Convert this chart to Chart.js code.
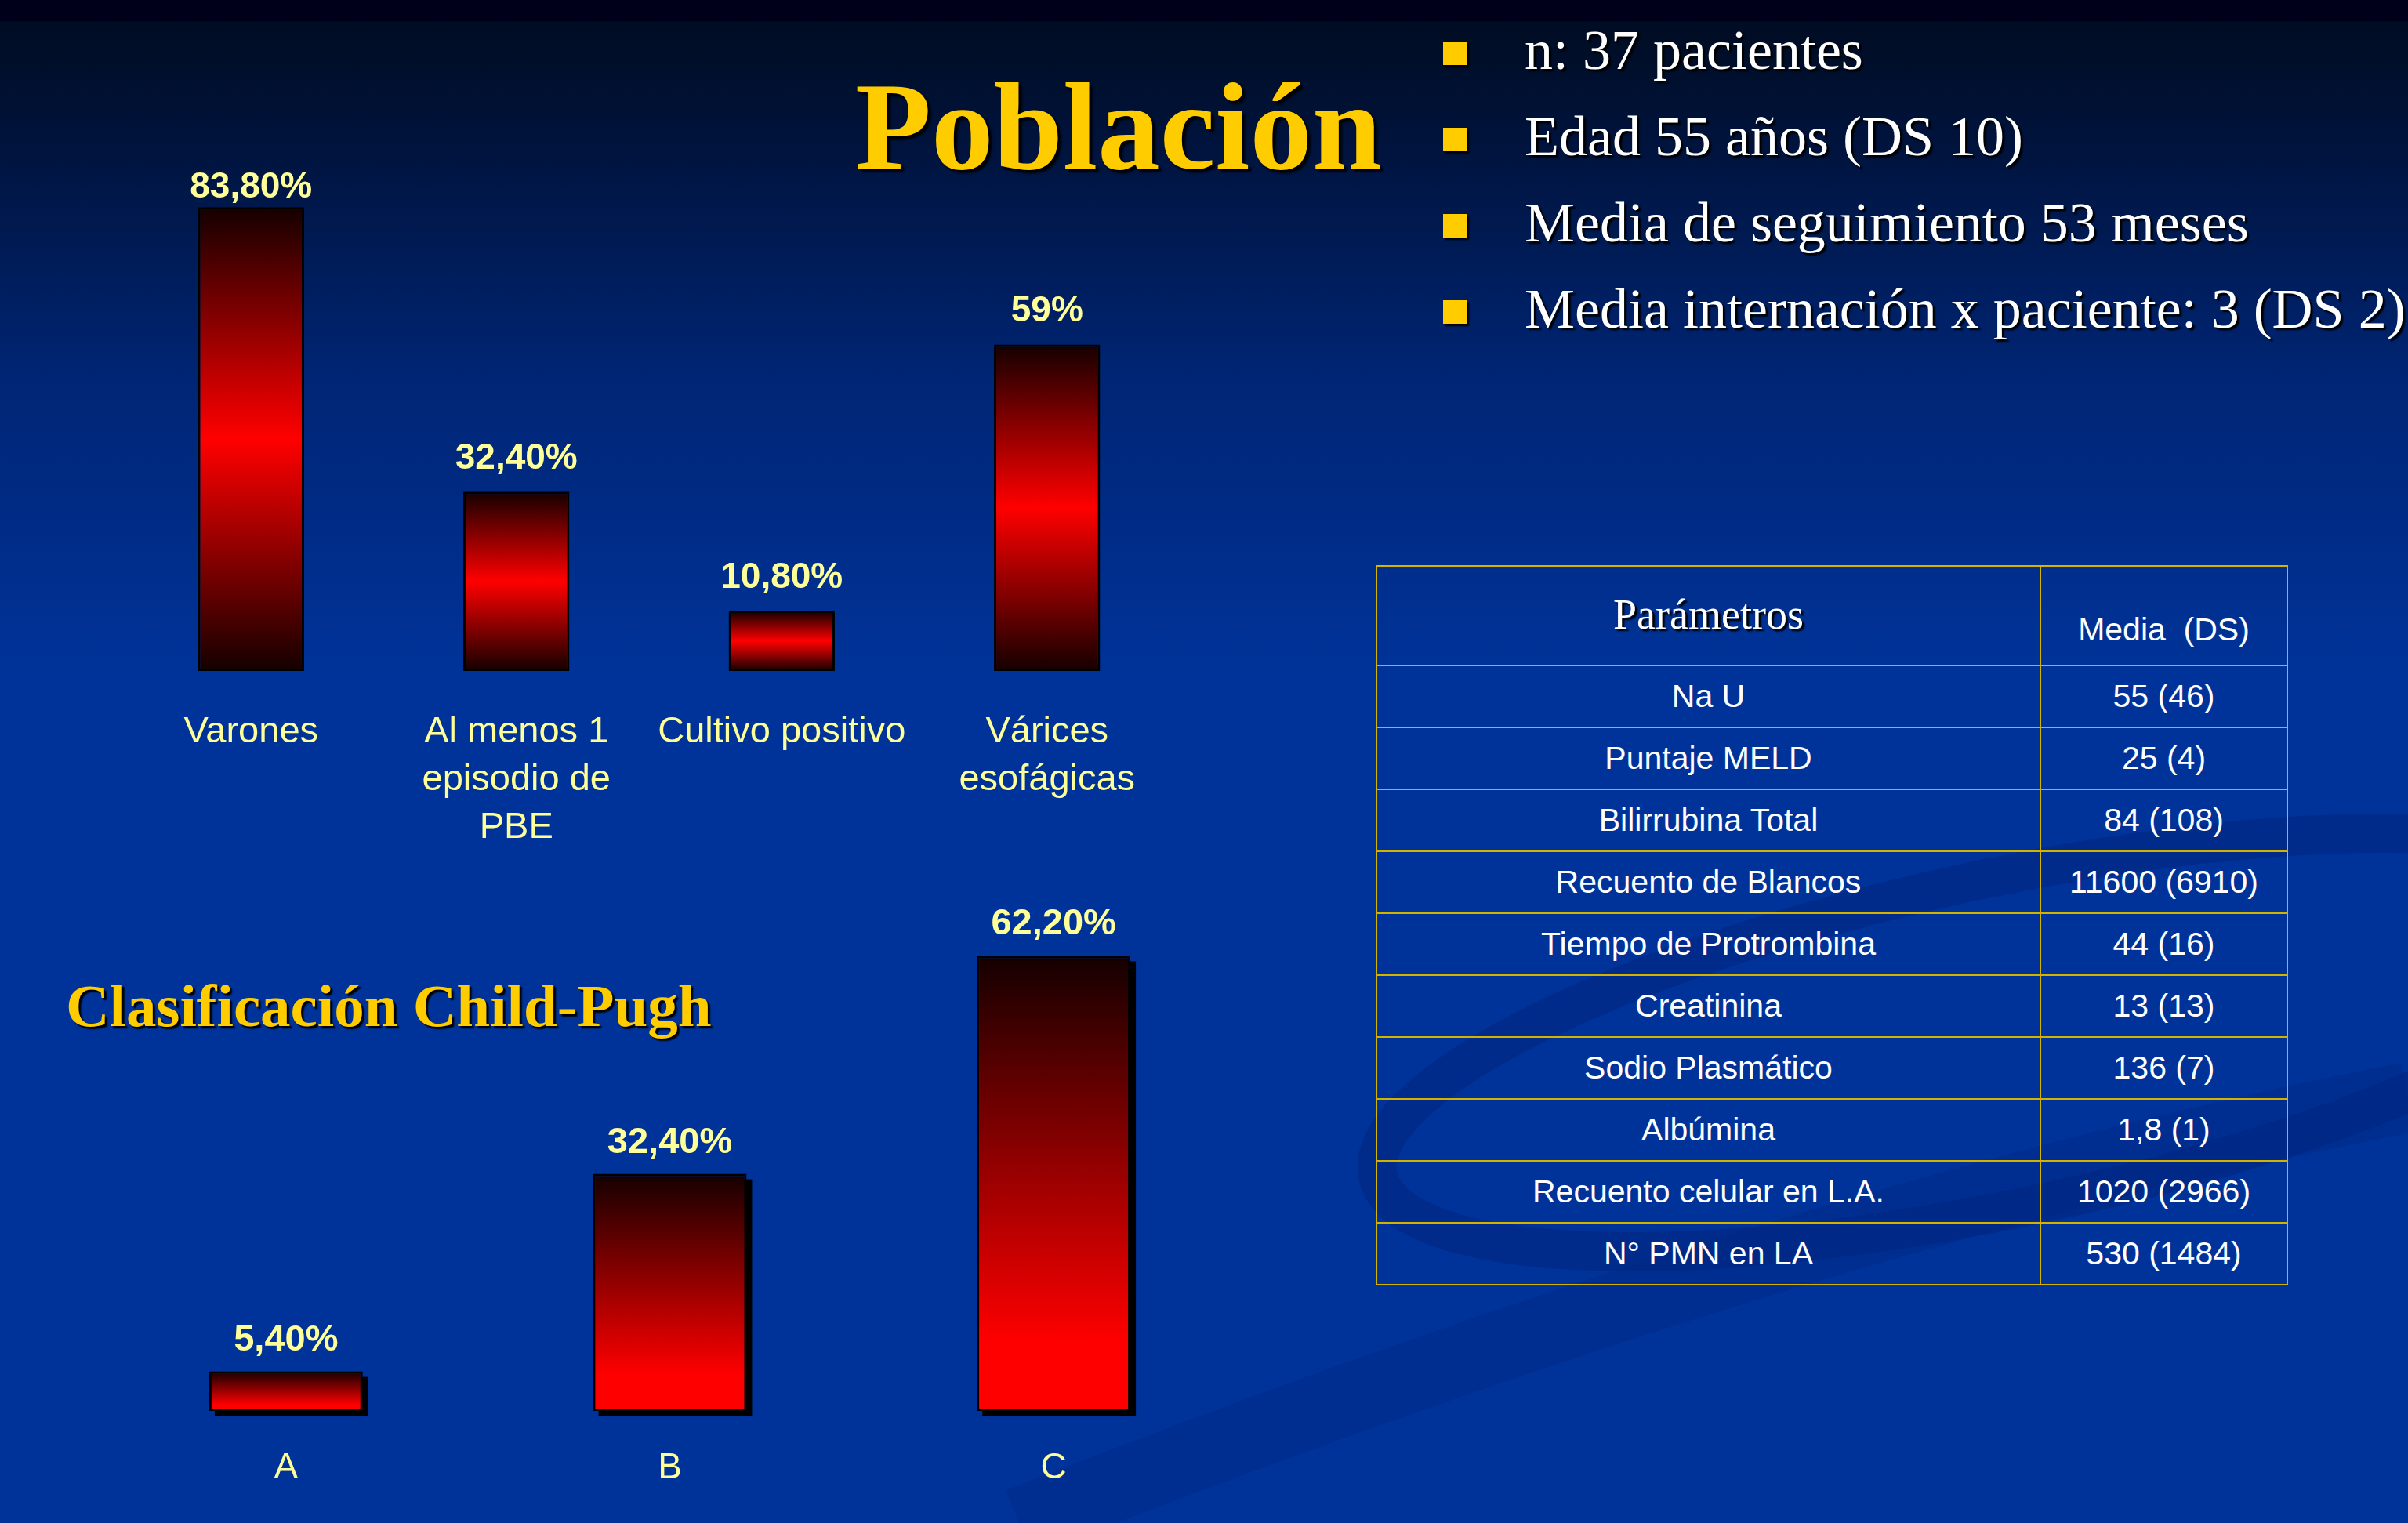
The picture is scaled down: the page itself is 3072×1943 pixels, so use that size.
<!DOCTYPE html>
<html>
<head>
<meta charset="utf-8">
<script src="https://cdn.jsdelivr.net/npm/chart.js@4.4.1/dist/chart.umd.min.js"></script>
<style>
  html, body { margin: 0; padding: 0; }
  body {
    width: 3072px; height: 1943px; overflow: hidden; position: relative;
    background: linear-gradient(to bottom, #00001a 0px, #00001a 27px, #000c22 28px, #00143f 200px, #002574 480px, #003399 860px, #003399 1943px);
  }
  .abs { position: absolute; }
  #title {
    left: 1091px; top: 82px; font-family: "Liberation Serif", serif; font-weight: bold;
    font-size: 159px; line-height: 159px; color: #ffcc00; white-space: nowrap;
    text-shadow: 4px 4px 3px #000;
  }
  #subtitle {
    left: 84px; top: 1244px; font-family: "Liberation Serif", serif; font-weight: bold;
    font-size: 77px; line-height: 78px; color: #ffcc00; white-space: nowrap;
    text-shadow: 3px 3px 2px #000;
  }
  .bullet-sq { width: 30px; height: 30px; background: #ffcc00; box-shadow: 3px 3px 2px #000; }
  .bullet-tx {
    font-family: "Liberation Serif", serif; font-size: 72px; line-height: 72px; color: #fff;
    white-space: nowrap; text-shadow: 3px 3px 2px #000;
  }
  #tbl {
    left: 1755px; top: 721px; width: 1164px; border-collapse: collapse;
    font-family: "Liberation Sans", Arial, sans-serif; font-size: 41px; color: #fff;
  }
  #tbl td { border: 2px solid #d4b200; text-align: center; padding: 0; height: 77px; }
  #tbl tr.hd td { height: 125px; }
  #tbl td.c1 { width: 845px; }
  .hdser { font-family: "Liberation Serif", serif; font-size: 54px; text-shadow: 3px 3px 2px #000; }
  canvas { position: absolute; }
</style>
</head>
<body>
<svg class="abs" style="left:0;top:0" width="3072" height="1943">
  <g fill="none">
    <ellipse cx="2560" cy="1330" rx="820" ry="210" transform="rotate(-12 2560 1330)" stroke-width="50" stroke="rgba(0,30,115,0.35)"/>
    <path d="M 1300 1943 Q 2300 1550 3072 1400" stroke-width="90" stroke="rgba(0,35,125,0.3)"/>
  </g>
</svg>

<div id="title" class="abs">Población</div>
<div id="subtitle" class="abs">Clasificación Child-Pugh</div>
<div id="bullets"></div>

<table id="tbl" class="abs"><tbody id="tbody"></tbody></table>

<canvas id="topChart" width="1354" height="966" style="left:151px;top:150px;"></canvas>
<canvas id="childChart" width="1469" height="843" style="left:120px;top:1100px;"></canvas>

<script>
// ---------- data ----------
const topCategories = [['Varones'], ['Al menos 1', 'episodio de', 'PBE'], ['Cultivo positivo'], ['Várices', 'esofágicas']];
const topValues = [83.8, 32.4, 10.8, 59];
const topValueLabels = ['83,80%', '32,40%', '10,80%', '59%'];

const childCategories = ['A', 'B', 'C'];
const childValues = [5.4, 32.4, 62.2];
const childValueLabels = ['5,40%', '32,40%', '62,20%'];

const bulletItems = ['n: 37 pacientes', 'Edad 55 años (DS 10)', 'Media de seguimiento 53 meses', 'Media internación x paciente: 3 (DS 2)'];

const tableHeader = ['Parámetros', 'Media  (DS)'];
const tableParams = ['Na U', 'Puntaje MELD', 'Bilirrubina Total', 'Recuento de Blancos', 'Tiempo de Protrombina', 'Creatinina', 'Sodio Plasmático', 'Albúmina', 'Recuento celular en L.A.', 'N° PMN en LA'];
const tableValues = ['55 (46)', '25 (4)', '84 (108)', '11600 (6910)', '44 (16)', '13 (13)', '136 (7)', '1,8 (1)', '1020 (2966)', '530 (1484)'];

// ---------- bullets ----------
const bDiv = document.getElementById('bullets');
bulletItems.forEach((t, i) => {
  const sq = document.createElement('div');
  sq.className = 'abs bullet-sq';
  sq.style.left = '1841px'; sq.style.top = (53 + i * 110) + 'px';
  bDiv.appendChild(sq);
  const tx = document.createElement('div');
  tx.className = 'abs bullet-tx';
  tx.style.left = '1945px'; tx.style.top = (28 + i * 110) + 'px';
  tx.textContent = t;
  bDiv.appendChild(tx);
});

// ---------- table ----------
const tb = document.getElementById('tbody');
{
  const tr = document.createElement('tr'); tr.className = 'hd';
  const a = document.createElement('td'); a.className = 'c1';
  a.innerHTML = '<span class="hdser" style="position:relative;top:-2px">' + tableHeader[0] + '</span>';
  const b = document.createElement('td');
  b.innerHTML = '<span style="position:relative;top:18px;white-space:pre">' + tableHeader[1] + '</span>';
  tr.appendChild(a); tr.appendChild(b); tb.appendChild(tr);
}
tableParams.forEach((p, i) => {
  const tr = document.createElement('tr');
  const a = document.createElement('td'); a.className = 'c1'; a.textContent = p;
  const b = document.createElement('td'); b.textContent = tableValues[i];
  tr.appendChild(a); tr.appendChild(b); tb.appendChild(tr);
});

// ---------- charts ----------
const labelColor = '#ffff99';

function makeGradient(ctx, mode) {
  const chart = ctx.chart;
  const area = chart.chartArea;
  if (!area) return '#ff0000';
  const ds = chart.data.datasets[ctx.datasetIndex];
  const v = ds.data[ctx.dataIndex];
  const ys = chart.scales.y;
  const top = ys.getPixelForValue(v);
  const base = ys.getPixelForValue(0);
  const g = chart.ctx.createLinearGradient(0, top, 0, base);
  if (mode === 'mid') {
    g.addColorStop(0, '#140000');
    g.addColorStop(0.5, '#ff0000');
    g.addColorStop(1, '#140000');
  } else {
    g.addColorStop(0, '#140000');
    g.addColorStop(0.85, '#ff0000');
    g.addColorStop(1, '#ff0000');
  }
  return g;
}

// draws an offset black shadow behind each bar, from the bar elements' geometry
const shadowPlugin = {
  id: 'barShadow',
  beforeDatasetsDraw(chart, args, opts) {
    if (!opts.enabled) return;
    const c = chart.ctx;
    const meta = chart.getDatasetMeta(0);
    c.save();
    c.fillStyle = '#000';
    meta.data.forEach((el) => {
      const p = el.getProps(['x', 'y', 'base', 'width'], true);
      const left = p.x - p.width / 2;
      const top = Math.min(p.y, p.base);
      const h = Math.abs(p.base - p.y);
      c.fillRect(left + opts.offset, top + opts.offset, p.width, h);
    });
    c.restore();
  }
};

const labelPlugin = {
  id: 'barLabels',
  afterDraw(chart, args, opts) {
    const c = chart.ctx;
    const meta = chart.getDatasetMeta(0);
    const base = chart.scales.y.getPixelForValue(0);
    c.save();
    c.fillStyle = labelColor;
    c.textAlign = 'center';
    c.textBaseline = 'middle';
    meta.data.forEach((el, i) => {
      c.font = 'bold ' + opts.valueSize + 'px "Liberation Sans", Arial, sans-serif';
      let y = el.y - opts.valueOffset;
      if (opts.minY !== undefined) y = Math.max(y, opts.minY);
      c.fillText(opts.valueLabels[i], el.x, y);
      c.font = opts.catSize + 'px "Liberation Sans", Arial, sans-serif';
      const lines = [].concat(chart.data.labels[i]);
      lines.forEach((ln, k) => {
        c.fillText(ln, el.x, base + opts.catOffset + k * opts.lineHeight);
      });
    });
    c.restore();
  }
};

new Chart(document.getElementById('topChart'), {
  type: 'bar',
  data: {
    labels: topCategories,
    datasets: [{
      data: topValues,
      backgroundColor: (ctx) => makeGradient(ctx, 'mid'),
      borderColor: '#000',
      borderWidth: 3,
      borderSkipped: false,
      categoryPercentage: 1,
      barPercentage: 0.4
    }]
  },
  options: {
    responsive: false,
    animation: false,
    devicePixelRatio: 1,
    layout: { padding: { top: 0, bottom: 260, left: 0, right: 0 } },
    scales: {
      x: { display: false },
      y: { display: false, min: 0, max: 100 }
    },
    plugins: {
      legend: { display: false },
      tooltip: { enabled: false },
      barShadow: { enabled: false },
      barLabels: {
        valueLabels: topValueLabels, valueSize: 46, valueOffset: 42, minY: 89,
        catSize: 47, catOffset: 78, lineHeight: 61
      }
    }
  },
  plugins: [shadowPlugin, labelPlugin]
});

new Chart(document.getElementById('childChart'), {
  type: 'bar',
  data: {
    labels: childCategories,
    datasets: [{
      data: childValues,
      backgroundColor: (ctx) => makeGradient(ctx, 'up'),
      borderColor: '#000',
      borderWidth: 3,
      borderSkipped: false,
      categoryPercentage: 1,
      barPercentage: 0.4
    }]
  },
  options: {
    responsive: false,
    animation: false,
    devicePixelRatio: 1,
    layout: { padding: { top: 0, bottom: 143, left: 0, right: 0 } },
    scales: {
      x: { display: false },
      y: { display: false, min: 0, max: 75 }
    },
    plugins: {
      legend: { display: false },
      tooltip: { enabled: false },
      barShadow: { enabled: true, offset: 7 },
      barLabels: {
        valueLabels: childValueLabels, valueSize: 47, valueOffset: 40,
        catSize: 46, catOffset: 73, lineHeight: 61
      }
    }
  },
  plugins: [shadowPlugin, labelPlugin]
});
</script>
</body>
</html>
